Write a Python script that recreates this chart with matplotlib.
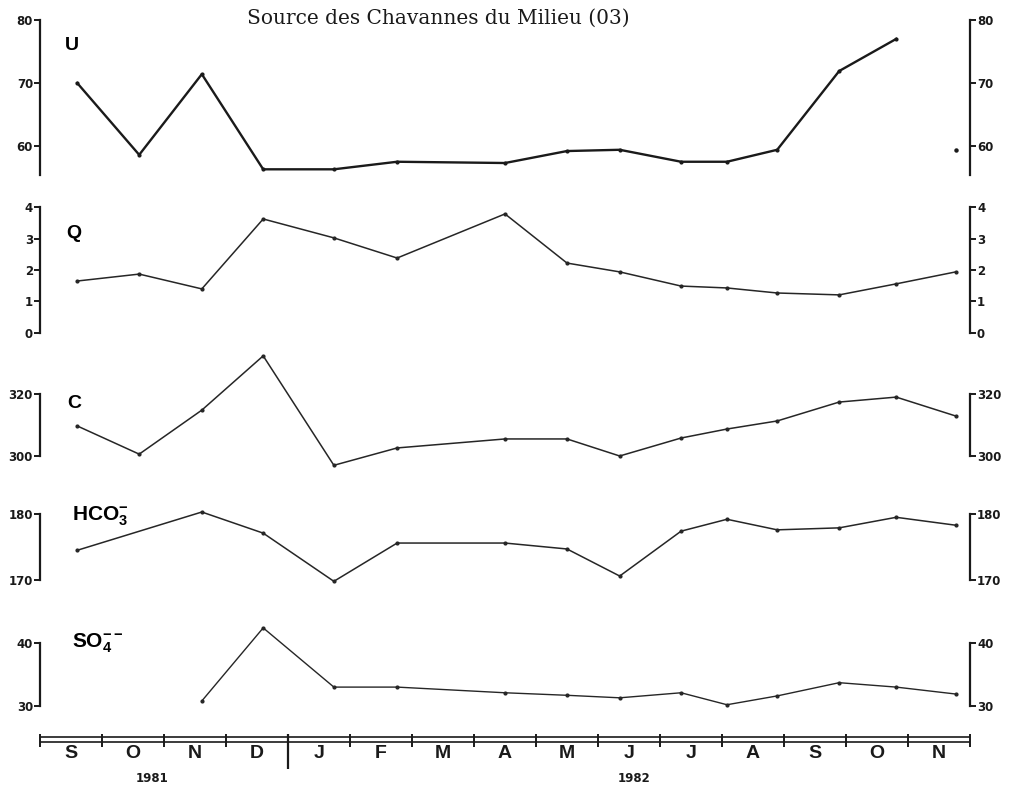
import numpy as np
import matplotlib
matplotlib.use("Agg")
from matplotlib import pyplot as plt

plt.rcParams["mathtext.fontset"] = "custom"
plt.rcParams["mathtext.bf"] = "Liberation Sans:bold"
plt.rcParams["mathtext.rm"] = "Liberation Sans:bold"

# sampling times, in months counted from 1 Sept 1981
t_mois = [0.60, 1.60, 2.61, 3.60, 4.74, 5.76, 7.50, 8.50, 9.35, 10.34,
          11.08, 11.89, 12.89, 13.81, 14.77]

U = [70.0, 58.6, 71.4, 56.3, 56.3, 57.5, 57.3, 59.2, 59.4, 57.5,
     57.5, 59.4, 71.9, 77.0, 59.4]
Q = [1.65, 1.87, 1.40, 3.62, 3.02, 2.38, 3.78, 2.22, 1.94, 1.49,
     1.43, 1.27, 1.21, 1.56, 1.94]
C = [309.7, 300.6, 314.8, 332.3, 297.0, 302.6, 305.5, 305.5, 300.0, 305.8,
     308.7, 311.3, 317.4, 319.0, 312.9]
HCO3 = [174.5, np.nan, 180.3, 177.1, 169.8, 175.6, 175.6, 174.7, 170.6, 177.4,
        179.2, 177.6, 177.9, 179.5, 178.3]
SO4 = [np.nan, np.nan, 30.8, 42.4, 33.0, 33.0, 32.1, 31.7, 31.3, 32.1,
       30.2, 31.6, 33.7, 33.0, 31.9]

mois = ["S", "O", "N", "D", "J", "F", "M", "A", "M", "J", "J", "A", "S", "O", "N"]
annees = ["1981", "1982"]

W, H = 1011, 791
fig = plt.figure(figsize=(W / 100, H / 100), dpi=100)

X0, X1 = 40, 970


def px_axes(y_top, y_bot):
    return fig.add_axes([X0 / W, 1 - y_bot / H, (X1 - X0) / W, (y_bot - y_top) / H])


# label, values, y px of top tick, y px of bottom tick, top value, bottom value, ticks, spine bounds, lw
panels = [
    ("U", U, 20, 146, 80, 60, [60, 70, 80], (55.4, 80), 1.7),
    ("Q", Q, 207, 333, 4, 0, [0, 1, 2, 3, 4], (0, 4), 1.1),
    ("C", C, 394, 456, 320, 300, [300, 320], (300, 320), 1.1),
    (r"$\mathbf{HCO_3^{-}}$", HCO3, 514, 580, 180, 170, [170, 180], (170, 180), 1.1),
    (r"$\mathbf{SO_4^{--}}$", SO4, 643, 706, 40, 30, [30, 40], (30, 40), 1.0),
]

for label, vals, yt, yb, vt, vb, ticks, bounds, lw in panels:
    ax = px_axes(yt, yb)
    ax.patch.set_alpha(0)
    ax.set_xlim(0, 15)
    ax.set_ylim(vb, vt)
    t = np.array(t_mois)
    v = np.array(vals, dtype=float)
    ok = ~np.isnan(v)
    if label == "U":
        # last value of U is only marked, no line drawn to it
        ax.plot(t[:14], v[:14], "-", color="#1a1a1a", lw=lw, marker="o", ms=2, clip_on=False)
        ax.plot(t[14:], v[14:], "o", color="#1a1a1a", ms=2.2, clip_on=False)
    else:
        ax.plot(t[ok], v[ok], "-", color="#262626", lw=lw, marker="o", ms=2, clip_on=False)
    for s in ["top", "bottom"]:
        ax.spines[s].set_visible(False)
    for s in ["left", "right"]:
        ax.spines[s].set_bounds(*bounds)
        ax.spines[s].set_linewidth(1.6)
        ax.spines[s].set_color("#1a1a1a")
    ax.set_xticks([])
    ax.set_yticks(ticks)
    ax.set_yticklabels([str(k) for k in ticks])
    ax.tick_params(axis="y", which="both", left=True, right=True, labelleft=True,
                   labelright=True, direction="out", length=4, width=1.4,
                   pad=1, labelsize=8.5, colors="#1a1a1a")
    for tl in ax.get_yticklabels():
        tl.set_fontweight("bold")
        tl.set_fontfamily("DejaVu Sans")

# panel names
fig.text(65 / W, 1 - 46 / H, "U", fontsize=14, fontweight="bold", family="Liberation Sans", va="center")
fig.text(66 / W, 1 - 233 / H, "Q", fontsize=14, fontweight="bold", family="Liberation Sans", va="center")
fig.text(67 / W, 1 - 403 / H, "C", fontsize=14, fontweight="bold", family="Liberation Sans", va="center")
fig.text(72 / W, 1 - 516 / H, panels[3][0], fontsize=15, va="center")
fig.text(72 / W, 1 - 643 / H, panels[4][0], fontsize=15, va="center")

# title
fig.text(438 / W, 1 - 18 / H, "Source des Chavannes du Milieu (03)",
         fontsize=14.5, family="DejaVu Serif", ha="center", va="center", color="#1a1a1a")

# time axis
axt = fig.add_axes([X0 / W, 0, (X1 - X0) / W, 66 / H])
axt.set_xlim(0, 15)
axt.set_ylim(791, 725)
axt.axis("off")
axt.hlines([737, 742], 0, 15, color="#1a1a1a", lw=1.2, clip_on=False)
axt.vlines(range(16), 734, 747, color="#1a1a1a", lw=1.4, clip_on=False)
axt.vlines([4], 734, 769, color="#1a1a1a", lw=1.6, clip_on=False)
for i, m in enumerate(mois):
    axt.text(i + 0.5, 754, m, ha="center", va="center", fontsize=14,
             fontweight="bold", family="Liberation Sans", color="#1a1a1a")
axt.text(1.81, 779, annees[0], ha="center", va="center", fontsize=8.5,
         fontweight="bold", family="DejaVu Sans", color="#1a1a1a")
axt.text(9.58, 779, annees[1], ha="center", va="center", fontsize=8.5,
         fontweight="bold", family="DejaVu Sans", color="#1a1a1a")

fig.savefig("out.png", dpi=100)
